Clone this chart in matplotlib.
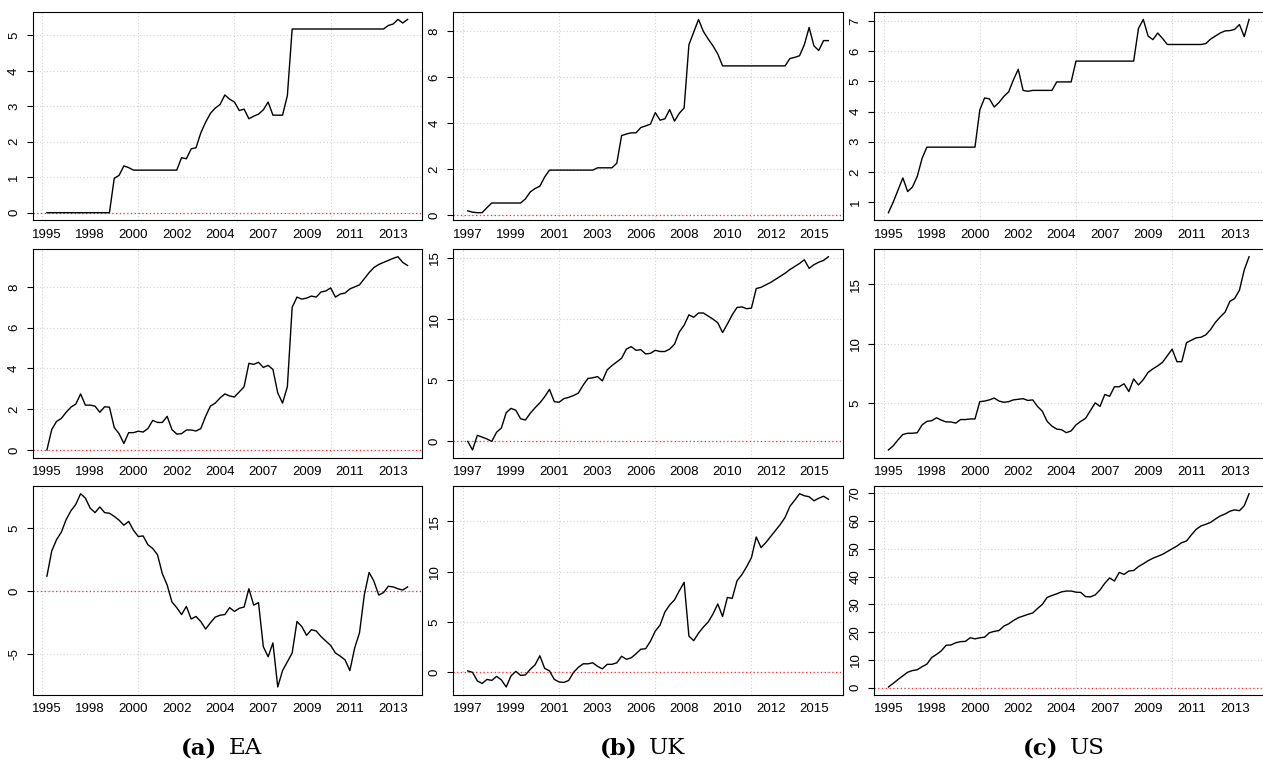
import matplotlib
matplotlib.use("Agg")
import matplotlib.pyplot as plt
import numpy as np

plt.rcParams['font.family'] = ['Liberation Sans', 'DejaVu Sans']

# quarterly series, 76 obs each
ea_1 = [0, 0, 0, 0, 0, 0, 0, 0, 0, 0,
        0, 0, 0, 0, 0.97, 1.05, 1.32, 1.27, 1.2, 1.2,
        1.2, 1.2, 1.2, 1.2, 1.2, 1.2, 1.2, 1.2, 1.55, 1.52,
        1.8, 1.83, 2.25, 2.55, 2.8, 2.95, 3.05, 3.32, 3.2, 3.12,
        2.88, 2.92, 2.65, 2.72, 2.78, 2.9, 3.12, 2.75, 2.75, 2.75,
        3.3, 5.18, 5.18, 5.18, 5.18, 5.18, 5.18, 5.18, 5.18, 5.18,
        5.18, 5.18, 5.18, 5.18, 5.18, 5.18, 5.18, 5.18, 5.18, 5.18,
        5.18, 5.28, 5.32, 5.45, 5.35, 5.45]
ea_2 = [0, 1.0, 1.4, 1.55, 1.85, 2.1, 2.25, 2.75, 2.2, 2.2,
        2.15, 1.85, 2.12, 2.1, 1.1, 0.8, 0.32, 0.85, 0.85, 0.92,
        0.88, 1.05, 1.45, 1.35, 1.35, 1.65, 1.0, 0.78, 0.8, 0.98,
        0.98, 0.93, 1.05, 1.65, 2.15, 2.3, 2.55, 2.75, 2.65, 2.6,
        2.85, 3.1, 4.25, 4.2, 4.3, 4.05, 4.15, 3.95, 2.8, 2.3,
        3.1, 7.0, 7.5, 7.4, 7.45, 7.55, 7.5, 7.75, 7.8, 7.95,
        7.5, 7.65, 7.7, 7.9, 8.0, 8.1, 8.4, 8.7, 8.95, 9.1,
        9.2, 9.3, 9.4, 9.48, 9.2, 9.05]
ea_3 = [1.2, 3.2, 4.1, 4.7, 5.7, 6.4, 6.9, 7.75, 7.4, 6.6,
        6.25, 6.7, 6.25, 6.2, 5.95, 5.65, 5.25, 5.55, 4.85, 4.35,
        4.4, 3.7, 3.4, 2.9, 1.4, 0.5, -0.85, -1.3, -1.85, -1.2,
        -2.2, -2.0, -2.4, -3.0, -2.5, -2.05, -1.9, -1.85, -1.3, -1.6,
        -1.35, -1.25, 0.2, -1.1, -0.9, -4.4, -5.2, -4.1, -7.6, -6.3,
        -5.6, -4.9, -2.4, -2.8, -3.5, -3.05, -3.15, -3.6, -3.95, -4.3,
        -4.9, -5.15, -5.45, -6.3, -4.5, -3.3, -0.3, 1.5, 0.8, -0.3,
        -0.1, 0.4, 0.35, 0.2, 0.1, 0.35]

uk_1 = [0.18, 0.12, 0.1, 0.1, 0.32, 0.52, 0.52, 0.52, 0.52, 0.52,
        0.52, 0.52, 0.7, 1.0, 1.15, 1.25, 1.65, 1.95, 1.95, 1.95,
        1.95, 1.95, 1.95, 1.95, 1.95, 1.95, 1.95, 2.05, 2.05, 2.05,
        2.05, 2.25, 3.45, 3.52, 3.57, 3.57, 3.8, 3.87, 3.95, 4.45,
        4.12, 4.18, 4.58, 4.08, 4.42, 4.65, 7.4, 7.95, 8.5, 7.98,
        7.65, 7.35, 7.0, 6.48, 6.48, 6.48, 6.48, 6.48, 6.48, 6.48,
        6.48, 6.48, 6.48, 6.48, 6.48, 6.48, 6.48, 6.8, 6.85, 6.92,
        7.4, 8.15, 7.35, 7.15, 7.58, 7.58]
uk_2 = [0.0, -0.7, 0.5, 0.35, 0.2, 0.0, 0.75, 1.1, 2.35, 2.7,
        2.55, 1.85, 1.75, 2.3, 2.75, 3.15, 3.65, 4.25, 3.25, 3.2,
        3.5, 3.6, 3.75, 3.95, 4.6, 5.15, 5.2, 5.3, 4.95, 5.85,
        6.2, 6.5, 6.8, 7.55, 7.75, 7.45, 7.5, 7.15, 7.2, 7.45,
        7.35, 7.35, 7.55, 7.95, 8.95, 9.5, 10.35, 10.15, 10.5, 10.5,
        10.25, 10.0, 9.7, 8.9, 9.6, 10.35, 10.95, 11.0, 10.85, 10.9,
        12.5, 12.6, 12.8, 13.0, 13.25, 13.5, 13.75, 14.05, 14.3, 14.55,
        14.85, 14.15, 14.45, 14.65, 14.8, 15.1]
uk_3 = [0.15, 0.0, -0.85, -1.1, -0.7, -0.8, -0.4, -0.75, -1.45, -0.35,
        0.1, -0.3, -0.25, 0.3, 0.75, 1.65, 0.4, 0.15, -0.7, -0.95,
        -1.0, -0.8, 0.0, 0.5, 0.85, 0.85, 0.95, 0.6, 0.35, 0.8,
        0.8, 0.95, 1.6, 1.3, 1.45, 1.85, 2.3, 2.35, 3.1, 4.1,
        4.7, 6.0, 6.7, 7.2, 8.1, 8.95, 3.6, 3.15, 3.9, 4.5,
        5.0, 5.8, 6.8, 5.55, 7.45, 7.35, 9.1, 9.7, 10.5, 11.4,
        13.45, 12.4, 12.9, 13.5, 14.1, 14.7, 15.4, 16.5, 17.1, 17.75,
        17.55, 17.45, 17.05, 17.3, 17.5, 17.2]

us_1 = [0.65, 1.0, 1.4, 1.8, 1.35, 1.5, 1.85, 2.45, 2.82, 2.82,
        2.82, 2.82, 2.82, 2.82, 2.82, 2.82, 2.82, 2.82, 2.82, 4.05,
        4.45, 4.42, 4.15, 4.3, 4.5, 4.65, 5.05, 5.4, 4.7, 4.67,
        4.7, 4.7, 4.7, 4.7, 4.7, 4.98, 4.98, 4.98, 4.98, 5.67,
        5.67, 5.67, 5.67, 5.67, 5.67, 5.67, 5.67, 5.67, 5.67, 5.67,
        5.67, 5.67, 6.75, 7.05, 6.5, 6.38, 6.6, 6.42, 6.22, 6.22,
        6.22, 6.22, 6.22, 6.22, 6.22, 6.22, 6.25, 6.4, 6.5, 6.6,
        6.67, 6.68, 6.72, 6.88, 6.48, 7.05]
us_2 = [1.1, 1.45, 1.95, 2.4, 2.5, 2.5, 2.55, 3.2, 3.5, 3.55,
        3.8, 3.6, 3.45, 3.45, 3.35, 3.65, 3.65, 3.7, 3.7, 5.15,
        5.2, 5.3, 5.45, 5.2, 5.1, 5.15, 5.3, 5.35, 5.4, 5.25,
        5.3, 4.75, 4.35, 3.5, 3.1, 2.85, 2.8, 2.55, 2.7, 3.2,
        3.5, 3.75, 4.4, 5.05, 4.75, 5.75, 5.6, 6.4, 6.4, 6.65,
        6.0, 7.05, 6.55, 7.0, 7.6, 7.9, 8.15, 8.45, 9.0, 9.55,
        8.5, 8.5, 10.1, 10.3, 10.5, 10.55, 10.75, 11.2, 11.8, 12.25,
        12.65, 13.55, 13.8, 14.5, 16.2, 17.3]
us_3 = [0.3, 1.6, 3.0, 4.3, 5.6, 6.2, 6.5, 7.6, 8.5, 10.9,
        12.0, 13.3, 15.3, 15.4, 16.2, 16.6, 16.7, 18.0, 17.6, 18.0,
        18.2, 19.8, 20.3, 20.6, 22.2, 23.0, 24.2, 25.2, 25.8, 26.4,
        26.9, 28.5, 30.0, 32.5, 33.2, 33.8, 34.5, 34.8, 34.8, 34.4,
        34.3, 32.8, 32.7, 33.4, 35.2, 37.6, 39.5, 38.4, 41.5, 40.8,
        42.0, 42.2, 43.6, 44.6, 45.7, 46.6, 47.3, 48.0, 49.0, 50.0,
        51.0, 52.2, 52.8, 55.0, 57.0, 58.2, 58.8, 59.5, 60.7, 61.8,
        62.5, 63.5, 64.0, 63.7, 65.5, 69.8]

ea_years = ['1995', '1998', '2000', '2002', '2004', '2007', '2009', '2011', '2013']
uk_years = ['1997', '1999', '2001', '2003', '2006', '2008', '2010', '2012', '2015']
us_years = ea_years

ea_yt = [[0, 1, 2, 3, 4, 5], [0, 2, 4, 6, 8], [-5, 0, 5]]
uk_yt = [[0, 2, 4, 6, 8], [0, 5, 10, 15], [0, 5, 10, 15]]
us_yt = [[1, 2, 3, 4, 5, 6, 7], [5, 10, 15], [0, 10, 20, 30, 40, 50, 60, 70]]

columns = [
    ('(a)', 'EA', [ea_1, ea_2, ea_3], ea_years, ea_yt),
    ('(b)', 'UK', [uk_1, uk_2, uk_3], uk_years, uk_yt),
    ('(c)', 'US', [us_1, us_2, us_3], us_years, us_yt),
]

W, H = 1263, 761
fig = plt.figure(figsize=(W / 100, H / 100), dpi=100)

col_left = [32.5, 453.3, 874]
row_top = [11.7, 249, 486]
bw, bh = 389.5, 208.7

dotted = (0, (1, 2))
tick_idx = np.arange(1, 77, 9)
grid_idx = [0, 20, 40, 60]

for c, (tag, name, series, years, yticks) in enumerate(columns):
    for r in range(3):
        y = np.array(series[r])
        x = np.arange(1, len(y) + 1)
        ax = fig.add_axes([col_left[c] / W, 1 - (row_top[r] + bh) / H, bw / W, bh / H])

        # R style 4% padding
        px = 0.04 * (x[-1] - x[0])
        py = 0.04 * (y.max() - y.min())
        lo, hi = y.min() - py, y.max() + py
        ax.set_xlim(x[0] - px, x[-1] + px)
        ax.set_ylim(lo, hi)

        for g in grid_idx:
            ax.axvline(g, color='#d3d3d3', ls=dotted, lw=0.8, zorder=0)
        for t in yticks[r]:
            ax.axhline(t, color='#d3d3d3', ls=dotted, lw=0.8, zorder=0)
        if lo < 0 < hi:
            ax.axhline(0, color='#ff3030', ls=dotted, lw=0.9, zorder=1)

        ax.plot(x, y, color='black', lw=1.0, zorder=2)

        ax.set_xticks(tick_idx)
        ax.set_xticklabels(years, fontsize=9.5)
        ax.set_yticks(yticks[r])
        ax.set_yticklabels([str(t) for t in yticks[r]], fontsize=9.5,
                           rotation=90, va='center')
        ax.tick_params(axis='x', length=0, pad=6)
        ax.tick_params(axis='y', length=4, width=0.8, pad=5)
        for s in ax.spines.values():
            s.set_linewidth(0.8)

    # sub-caption under the column
    yb = 1 - 754 / H
    fig.text((col_left[c] + 184.7) / W, yb, tag, ha='right', va='baseline',
             family='DejaVu Serif', weight='bold', fontsize=16.5)
    fig.text((col_left[c] + 195.8) / W, yb, name, ha='left', va='baseline',
             family='DejaVu Serif', fontsize=16.5)

fig.savefig('out.png', dpi=100)
